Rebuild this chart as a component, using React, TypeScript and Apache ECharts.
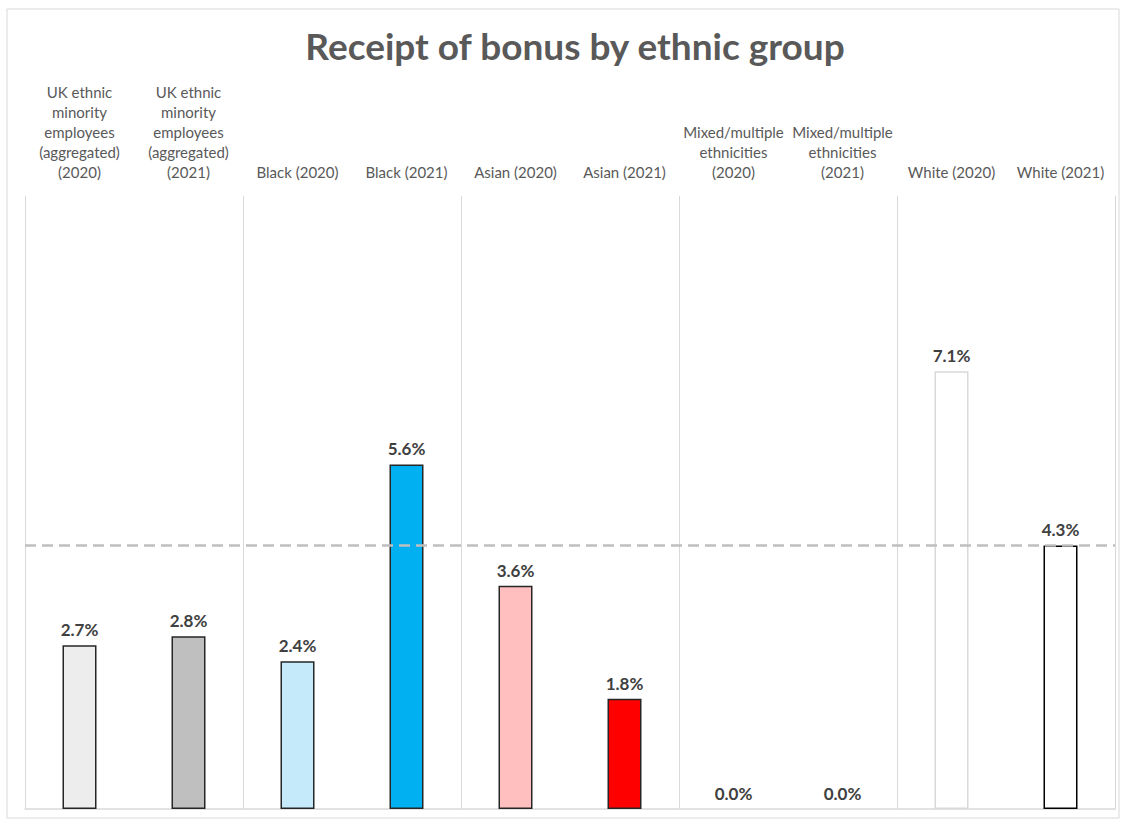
import React, { useEffect, useRef } from "react";
import * as echarts from "echarts";

const categories = [
  "UK ethnic\nminority\nemployees\n(aggregated)\n(2020)",
  "UK ethnic\nminority\nemployees\n(aggregated)\n(2021)",
  "Black (2020)",
  "Black (2021)",
  "Asian (2020)",
  "Asian (2021)",
  "Mixed/multiple\nethnicities\n(2020)",
  "Mixed/multiple\nethnicities\n(2021)",
  "White (2020)",
  "White (2021)",
];
const values = [2.67, 2.82, 2.41, 5.62, 3.64, 1.8, 0, 0, 7.14, 4.3];
const fills = ["#EDEDED", "#BFBFBF", "#C5EAF9", "#00B0F0", "#FFBFBF", "#FF0000", "#FFFFFF", "#FFFFFF", "#FFFFFF", "#FFFFFF"];
const borders = ["#262626", "#262626", "#262626", "#262626", "#262626", "#262626", "#262626", "#262626", "#D9D9D9", "#000000"];
const referenceLine = 4.3;

export default function App() {
  const ref = useRef<HTMLDivElement>(null);
  useEffect(() => {
    const chart = echarts.init(ref.current!, null, { renderer: "svg" });
    chart.setOption({
      animation: false,
      backgroundColor: "#FFFFFF",
      title: {
        text: "Receipt of bonus by ethnic group",
        left: 570,
        textAlign: "center",
        top: 22,
        textStyle: { fontFamily: "Lato", fontWeight: "bold", fontSize: 37, color: "#595959" },
      },
      graphic: [
        {
          type: "rect",
          shape: { x: 7, y: 9, width: 1112, height: 809 },
          style: { fill: "none", stroke: "#D9D9D9", lineWidth: 1 },
          silent: true,
        },
      ],
      grid: { left: 25, right: 7, top: 196, bottom: 11 },
      xAxis: [
        {
          type: "category",
          position: "top",
          data: categories,
          axisLine: { show: false },
          axisTick: { show: false },
          axisLabel: {
            interval: 0,
            margin: 14,
            fontFamily: "Lato",
            fontSize: 15,
            lineHeight: 20,
            color: "#595959",
          },
          splitLine: {
            show: true,
            interval: (i: number) => i % 2 === 0,
            lineStyle: { color: "#D9D9D9", width: 1 },
          },
        },
        {
          type: "category",
          position: "bottom",
          data: categories,
          axisLine: { show: true, lineStyle: { color: "#D9D9D9", width: 1.5 } },
          axisTick: { show: false },
          axisLabel: { show: false },
        },
      ],
      yAxis: [
        { type: "value", min: 0, max: 10, show: false, splitLine: { show: false } },
        {
          type: "value",
          min: 0,
          max: 10,
          position: "right",
          axisLine: { show: true, lineStyle: { color: "#D9D9D9", width: 1 } },
          axisTick: { show: false },
          axisLabel: { show: false },
          splitLine: { show: false },
        },
      ],
      series: [
        {
          type: "bar",
          barWidth: 34,
          data: values.map((v, i) => ({
            value: v,
            itemStyle: { color: fills[i], borderColor: borders[i], borderWidth: v === 0 ? 0 : 1.5 },
          })),
          label: {
            show: true,
            position: "top",
            distance: 7,
            formatter: (p: any) => p.value.toFixed(1) + "%",
            fontFamily: "Lato",
            fontWeight: "bold",
            fontSize: 17,
            color: "#404040",
          },
          markLine: {
            silent: true,
            symbol: "none",
            label: { show: false },
            lineStyle: { color: "#BFBFBF", type: [11, 6], width: 2.5 },
            data: [{ yAxis: referenceLine }],
          },
          z: 2,
        },
      ],
    });
    return () => chart.dispose();
  }, []);
  return <div ref={ref} style={{ position: "absolute", left: 0, top: 0, width: 1122, height: 820 }} />;
}
